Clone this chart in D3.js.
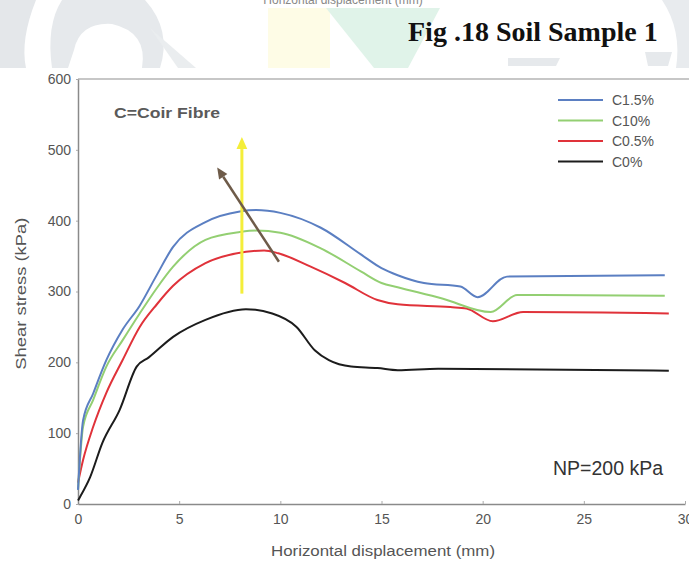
<!DOCTYPE html>
<html>
<head>
<meta charset="utf-8">
<script src="https://cdn.jsdelivr.net/npm/d3@7"></script>
<style>
  html, body { margin: 0; padding: 0; background: #fff; }
  svg { display: block; }
</style>
</head>
<body>
<svg id="chart" width="689" height="565"></svg>
<script>
// Shear stress (kPa) vs horizontal displacement (mm) for coir fibre contents
const xTicks = [0, 5, 10, 15, 20, 25, 30];
const yTicks = [0, 100, 200, 300, 400, 500, 600];

const seriesNames = ["C1.5%", "C10%", "C0.5%", "C0%"];
const seriesColors = ["#5b7fc2", "#93cf72", "#e0323a", "#1c1c1c"];

const dispC15 = [0, 0.25, 0.75, 1.4, 2.2, 3.05, 3.85, 4.7, 6.3, 8, 8.8, 10, 12, 14, 15, 15.8, 17.1, 18.9, 19.75, 21.2, 29];
const stressC15 = [20, 118, 156, 203, 246, 280, 321, 363, 398, 413, 415, 411, 390, 352, 333, 323, 312, 307, 292, 321, 323];

const dispC10 = [0, 0.25, 0.75, 1.4, 2.2, 3.05, 3.9, 4.7, 6.3, 8, 8.8, 10, 12, 14, 15, 15.8, 18, 20.4, 21.7, 29];
const stressC10 = [20, 109, 147, 194, 231, 269, 305, 335, 373, 384, 386, 383, 361, 328, 312, 306, 290, 271, 295, 294];

const dispC05 = [0, 0.25, 0.75, 1.4, 2.2, 3.05, 3.9, 4.7, 6.3, 8.3, 9.2, 9.9, 11.5, 13.2, 14.8, 15.8, 18.4, 19.2, 20.5, 22, 29.2];
const stressC05 = [30, 62, 109, 157, 203, 250, 282, 308, 340, 356, 358, 354, 335, 312, 288, 282, 278, 276, 258, 271, 269];

const dispC0 = [0, 0.1, 0.6, 1.2, 2.06, 2.9, 3.5, 4.7, 6.3, 8.3, 9.6, 10.8, 11.7, 12.4, 13.5, 14.8, 15.8, 17.8, 29.2];
const stressC0 = [5, 10, 38, 86, 133, 194, 207, 236, 260, 275, 269, 250, 217, 203, 194, 192, 189, 191, 188];

// Trend arrows, in data units: [x0, y0, x1, y1]
const yellowArrow = [8.1, 297, 8.1, 518];
const brownArrow = [9.93, 342, 6.88, 475];

const series = [
  { name: seriesNames[0], color: seriesColors[0], x: dispC15, y: stressC15 },
  { name: seriesNames[1], color: seriesColors[1], x: dispC10, y: stressC10 },
  { name: seriesNames[2], color: seriesColors[2], x: dispC05, y: stressC05 },
  { name: seriesNames[3], color: seriesColors[3], x: dispC0, y: stressC0 }
];

const svg = d3.select("#chart");
const W = 689, H = 565;
const font = "'Liberation Sans', Arial, sans-serif";

// ---- faint page watermark behind the figure ----
const wm = svg.append("g");
wm.append("path").attr("d", "M0,0 L36,0 Q20,40 26,68 L0,68 Z").attr("fill", "#e4e7ea");
wm.append("path").attr("d", "M62,0 L145,0 Q172,30 160,68 L142,68 Q148,32 112,24 Q80,22 74,50 L68,68 L52,68 Q46,25 62,0 Z").attr("fill", "#e6e9ec");
wm.append("path").attr("d", "M150,28 L178,68 L196,68 Z").attr("fill", "#eaedef");
wm.append("path").attr("d", "M268,8 L330,8 L330,68 L268,68 Z").attr("fill", "#fefce6");
wm.append("path").attr("d", "M326,8 L440,8 L408,68 L374,68 Z").attr("fill", "#e0f3e9");
wm.append("path").attr("d", "M508,58 L560,58 L556,66 L508,66 Z").attr("fill", "#e6e9ec");
wm.append("path").attr("d", "M645,52 L672,52 L668,66 L648,66 Z").attr("fill", "#e6e9ec");
wm.append("path").attr("d", "M662,0 L689,0 L689,68 L676,68 Q682,30 662,0 Z").attr("fill", "#e8ebee");

// Partly visible axis caption from the figure above
svg.append("text")
  .attr("x", 343).attr("y", 4)
  .attr("text-anchor", "middle")
  .attr("font-family", font).attr("font-size", 12)
  .attr("fill", "#888")
  .text("Horizontal displacement (mm)");

// Caption
svg.append("text")
  .attr("x", 408).attr("y", 41)
  .attr("font-family", "'Liberation Serif', 'Times New Roman', serif")
  .attr("font-weight", "bold").attr("font-size", 28)
  .attr("fill", "#111")
  .text("Fig .18 Soil Sample 1");

// White figure panel
svg.append("rect").attr("x", 0).attr("y", 68).attr("width", W).attr("height", H - 68).attr("fill", "#fff");

// ---- chart ----
const x = d3.scaleLinear().domain([0, 30]).range([78, 685]);
const y = d3.scaleLinear().domain([0, 600]).range([504, 79]);

// top frame line
svg.append("line")
  .attr("x1", x(0)).attr("x2", W).attr("y1", y(600)).attr("y2", y(600))
  .attr("stroke", "#b5b5b5").attr("stroke-width", 1.5);

const xAxis = svg.append("g")
  .attr("transform", `translate(0,${y(0)})`)
  .call(d3.axisBottom(x).tickValues(xTicks).tickFormat(d3.format("d")).tickSizeInner(-3).tickSizeOuter(0).tickPadding(10));
const yAxis = svg.append("g")
  .attr("transform", `translate(${x(0)},0)`)
  .call(d3.axisLeft(y).tickValues(yTicks).tickFormat(d3.format("d")).tickSizeInner(2).tickSizeOuter(0).tickPadding(5));

[xAxis, yAxis].forEach(g => {
  g.select(".domain").attr("stroke", "#8a8a8a").attr("stroke-width", 1.5);
  g.selectAll(".tick line").attr("stroke", "#aaa");
  g.selectAll(".tick text").attr("font-family", font).attr("font-size", 14).attr("fill", "#555");
});

// axis titles
svg.append("text")
  .attr("x", 383).attr("y", 556)
  .attr("text-anchor", "middle")
  .attr("font-family", font).attr("font-size", 15.5)
  .attr("textLength", 224).attr("lengthAdjust", "spacingAndGlyphs")
  .attr("fill", "#555")
  .text("Horizontal displacement (mm)");
svg.append("text")
  .attr("transform", `translate(26,${y(297)}) rotate(-90)`)
  .attr("text-anchor", "middle")
  .attr("font-family", font).attr("font-size", 15)
  .attr("textLength", 152).attr("lengthAdjust", "spacingAndGlyphs")
  .attr("fill", "#555")
  .text("Shear stress (kPa)");

// curves
const line = d3.line()
  .x(d => x(d[0]))
  .y(d => y(d[1]))
  .curve(d3.curveMonotoneX);

svg.append("g").selectAll("path")
  .data(series.slice().reverse())
  .join("path")
  .attr("d", s => line(s.x.map((v, i) => [v, s.y[i]])))
  .attr("fill", "none")
  .attr("stroke", s => s.color)
  .attr("stroke-width", 2)
  .attr("stroke-linejoin", "round");

// arrows
function arrow(a, color, width, head) {
  const x0 = x(a[0]), y0 = y(a[1]), x1 = x(a[2]), y1 = y(a[3]);
  const ang = Math.atan2(y1 - y0, x1 - x0);
  const bx = x1 - head * Math.cos(ang), by = y1 - head * Math.sin(ang);
  const px = Math.sin(ang) * head * 0.45, py = -Math.cos(ang) * head * 0.45;
  svg.append("line")
    .attr("x1", x0).attr("y1", y0).attr("x2", bx).attr("y2", by)
    .attr("stroke", color).attr("stroke-width", width);
  svg.append("path")
    .attr("d", `M${x1},${y1} L${bx + px},${by + py} L${bx - px},${by - py} Z`)
    .attr("fill", color);
}
arrow(yellowArrow, "#f4ee3a", 3, 12);
arrow(brownArrow, "#6e5b49", 2.5, 11);

// legend
const legend = svg.append("g");
series.forEach((s, i) => {
  const ly = 100 + i * 20.5;
  legend.append("line")
    .attr("x1", 558).attr("x2", 603).attr("y1", ly).attr("y2", ly)
    .attr("stroke", s.color).attr("stroke-width", 2);
  legend.append("text")
    .attr("x", 612).attr("y", ly + 5)
    .attr("font-family", font).attr("font-size", 14)
    .attr("fill", "#555")
    .text(s.name);
});

// annotations
svg.append("text")
  .attr("x", 114).attr("y", 118)
  .attr("font-family", font).attr("font-size", 14).attr("font-weight", "bold")
  .attr("textLength", 106).attr("lengthAdjust", "spacingAndGlyphs")
  .attr("fill", "#5a5a5a")
  .text("C=Coir Fibre");
svg.append("text")
  .attr("x", 553).attr("y", 475)
  .attr("font-family", font).attr("font-size", 19.5)
  .attr("fill", "#333")
  .text("NP=200 kPa");
</script>
</body>
</html>
